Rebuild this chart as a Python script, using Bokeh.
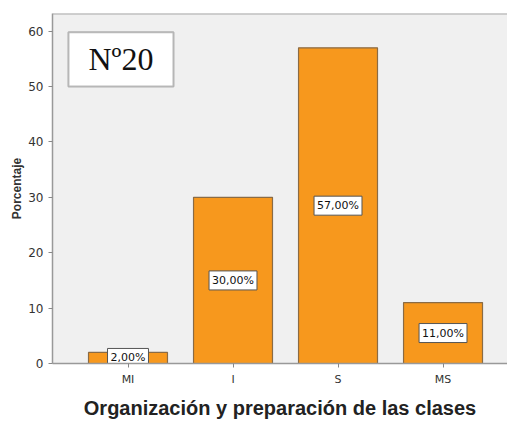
from bokeh.plotting import figure
from bokeh.models import ColumnDataSource, Range1d, FixedTicker, BoxAnnotation, Label, Span
from bokeh.embed import file_html
from bokeh.resources import INLINE
from bokeh.core.properties import value

categories = ["MI", "I", "S", "MS"]
percent = [2, 30, 57, 11]
labels = ["2,00%", "30,00%", "57,00%", "11,00%"]
y_ticks = [0, 10, 20, 30, 40, 50, 60]

Y_END = 63.2
xs = list(range(len(categories)))
src = ColumnDataSource(dict(
    x=xs, top=percent, mid=[v / 2 for v in percent], lab=labels))

p = figure(width=507, height=421, output_backend="svg", toolbar_location=None,
           x_range=Range1d(-0.719, 3.614), y_range=Range1d(0, Y_END),
           min_border_left=52, min_border_right=0, min_border_top=13,
           min_border_bottom=56)

p.background_fill_color = "#f0f0f0"
p.border_fill_color = "white"
p.outline_line_color = None
p.xgrid.visible = False
p.ygrid.visible = False
p.add_layout(Span(location=Y_END, dimension="width",
                  line_color="#a8a8a8", line_width=2))

p.vbar(x="x", top="top", bottom=0, width=0.752, source=src,
       fill_color="#F7981D", line_color="#8a6b45", line_width=1.2)

p.text(x="x", y="mid", text="lab", source=src, text_align="center",
       text_baseline="middle", text_font=value("DejaVu Sans"),
       text_font_size="11px", text_color="#111111",
       background_fill_color="white", border_line_color="#555555",
       border_line_width=1, padding=3)

# x axis
p.xaxis.ticker = FixedTicker(ticks=xs)
p.xaxis.major_label_overrides = {i: c for i, c in enumerate(categories)}
p.xaxis.axis_label = "Organización y preparación de las clases"
p.xaxis.axis_label_text_font = "Liberation Sans"
p.xaxis.axis_label_text_font_style = "bold"
p.xaxis.axis_label_text_font_size = "20px"
p.xaxis.axis_label_text_color = "#222222"
p.xaxis.axis_label_standoff = 8
p.xaxis.major_label_text_font = "DejaVu Sans"
p.xaxis.major_label_text_font_size = "11px"
p.xaxis.major_label_text_color = "#333333"
p.xaxis.minor_tick_line_color = None

# y axis
p.yaxis.ticker = FixedTicker(ticks=y_ticks)
p.yaxis.axis_label = "Porcentaje"
p.yaxis.axis_label_text_font = "Liberation Sans"
p.yaxis.axis_label_text_font_style = "bold"
p.yaxis.axis_label_text_font_size = "12px"
p.yaxis.axis_label_text_color = "#333333"
p.yaxis.axis_label_standoff = 1
p.yaxis.major_label_text_font = "DejaVu Sans"
p.yaxis.major_label_text_font_size = "12px"
p.yaxis.major_label_text_color = "#333333"
p.yaxis.minor_tick_line_color = None

for ax in (p.xaxis, p.yaxis):
    ax.axis_line_color = "#999999"
    ax.axis_line_width = 1.5
    ax.major_tick_line_color = "#888888"
    ax.major_tick_in = 0
    ax.major_tick_out = 4

# title box
p.add_layout(BoxAnnotation(left=-0.567, right=0.433, bottom=50, top=59.8,
                           fill_color="white", fill_alpha=1,
                           line_color="#222222", line_width=2))
p.add_layout(Label(x=-0.067, y=54.9, text="Nº20", text_align="center",
                   text_baseline="middle", text_font="Liberation Serif",
                   text_font_size="32px", text_color="#111111"))

open("out.html", "w").write(file_html(p, INLINE))
